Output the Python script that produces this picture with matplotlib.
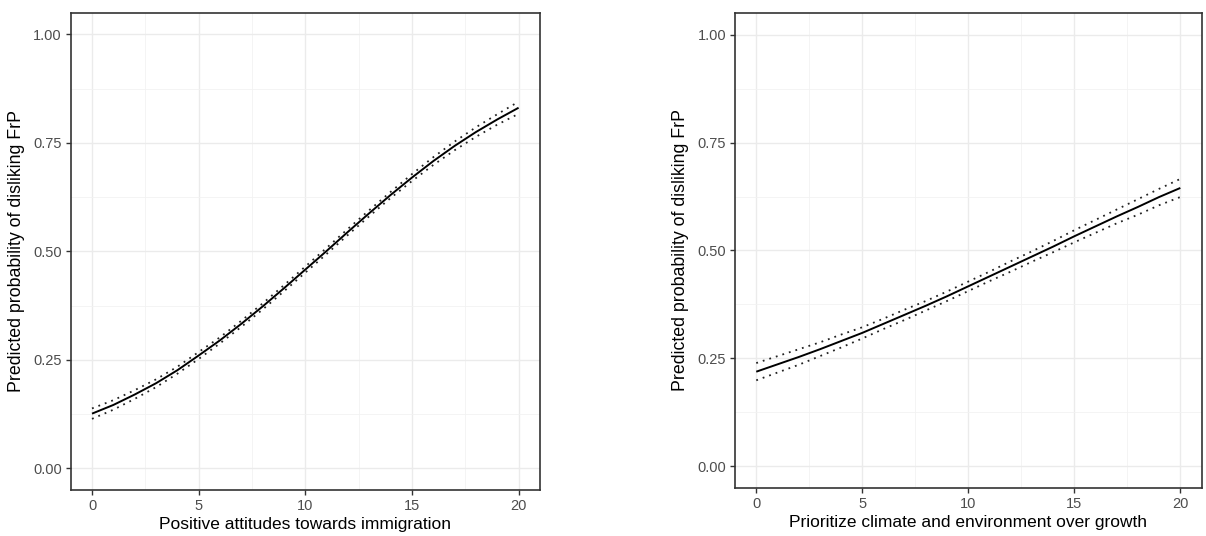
import matplotlib.pyplot as plt
from matplotlib.ticker import MultipleLocator

plt.rcParams['font.family'] = ['Liberation Sans', 'DejaVu Sans']

# valeurs (x = 0..20)
x_vals = list(range(21))

imm_fit = [0.126, 0.146, 0.170, 0.196, 0.226, 0.260, 0.295, 0.333, 0.373, 0.415, 0.458,
           0.501, 0.545, 0.588, 0.630, 0.670, 0.708, 0.743, 0.775, 0.804, 0.831]
imm_upper = [0.138, 0.157, 0.180, 0.205, 0.234, 0.268, 0.302, 0.340, 0.380, 0.422, 0.465,
             0.508, 0.552, 0.595, 0.637, 0.678, 0.717, 0.753, 0.786, 0.816, 0.845]
imm_lower = [0.114, 0.135, 0.160, 0.187, 0.218, 0.252, 0.288, 0.326, 0.366, 0.408, 0.451,
             0.494, 0.538, 0.581, 0.623, 0.662, 0.699, 0.733, 0.764, 0.792, 0.817]

clim_fit = [0.219, 0.236, 0.253, 0.271, 0.290, 0.309, 0.330, 0.351, 0.372, 0.394, 0.417,
            0.440, 0.463, 0.486, 0.509, 0.533, 0.556, 0.579, 0.601, 0.624, 0.645]
clim_upper = [0.239, 0.255, 0.271, 0.287, 0.305, 0.322, 0.342, 0.363, 0.383, 0.405, 0.428,
              0.451, 0.475, 0.498, 0.522, 0.547, 0.571, 0.595, 0.619, 0.643, 0.666]
clim_lower = [0.199, 0.217, 0.235, 0.255, 0.275, 0.296, 0.318, 0.339, 0.361, 0.383, 0.406,
              0.429, 0.451, 0.474, 0.496, 0.519, 0.541, 0.563, 0.583, 0.605, 0.624]

y_ticks = [0.0, 0.25, 0.5, 0.75, 1.0]
y_ticklabels = ["0.00", "0.25", "0.50", "0.75", "1.00"]
x_ticks = [0, 5, 10, 15, 20]
y_label = "Predicted probability of disliking FrP"

panels = [
    ([0.0586, 0.0858, 0.3891, 0.8905], imm_fit, imm_upper, imm_lower,
     "Positive attitudes towards immigration"),
    ([0.6095, 0.0901, 0.3868, 0.8851], clim_fit, clim_upper, clim_lower,
     "Prioritize climate and environment over growth"),
]

fig = plt.figure(figsize=(12.06, 5.36), dpi=100)

for rect, fit, upper, lower, xlabel in panels:
    ax = fig.add_axes(rect)
    ax.plot(x_vals, fit, color='black', lw=1.4, solid_capstyle='butt')
    # intervalle de confiance en pointillés
    ax.plot(x_vals, upper, color='#222222', lw=1.3, linestyle=(0, (1, 2.8)))
    ax.plot(x_vals, lower, color='#222222', lw=1.3, linestyle=(0, (1, 2.8)))

    ax.set_xlim(-1, 21)
    ax.set_ylim(-0.05, 1.05)
    ax.set_xticks(x_ticks)
    ax.set_yticks(y_ticks)
    ax.set_yticklabels(y_ticklabels)
    ax.xaxis.set_minor_locator(MultipleLocator(2.5))
    ax.yaxis.set_minor_locator(MultipleLocator(0.125))

    ax.grid(True, which='major', color='#EBEBEB', lw=1.0)
    ax.grid(True, which='minor', color='#F2F2F2', lw=0.6)
    ax.set_axisbelow(True)

    for sp in ax.spines.values():
        sp.set_color('#333333')
        sp.set_linewidth(1.2)

    ax.tick_params(which='major', length=3.5, width=1.0, color='#333333',
                   labelcolor='#4D4D4D', labelsize=10.5, pad=3)
    ax.tick_params(which='minor', length=0)

    ax.set_xlabel(xlabel, fontsize=12.5, color='black', labelpad=3)
    ax.set_ylabel(y_label, fontsize=12.8, color='black', labelpad=6)

fig.savefig("out.png", dpi=100)
